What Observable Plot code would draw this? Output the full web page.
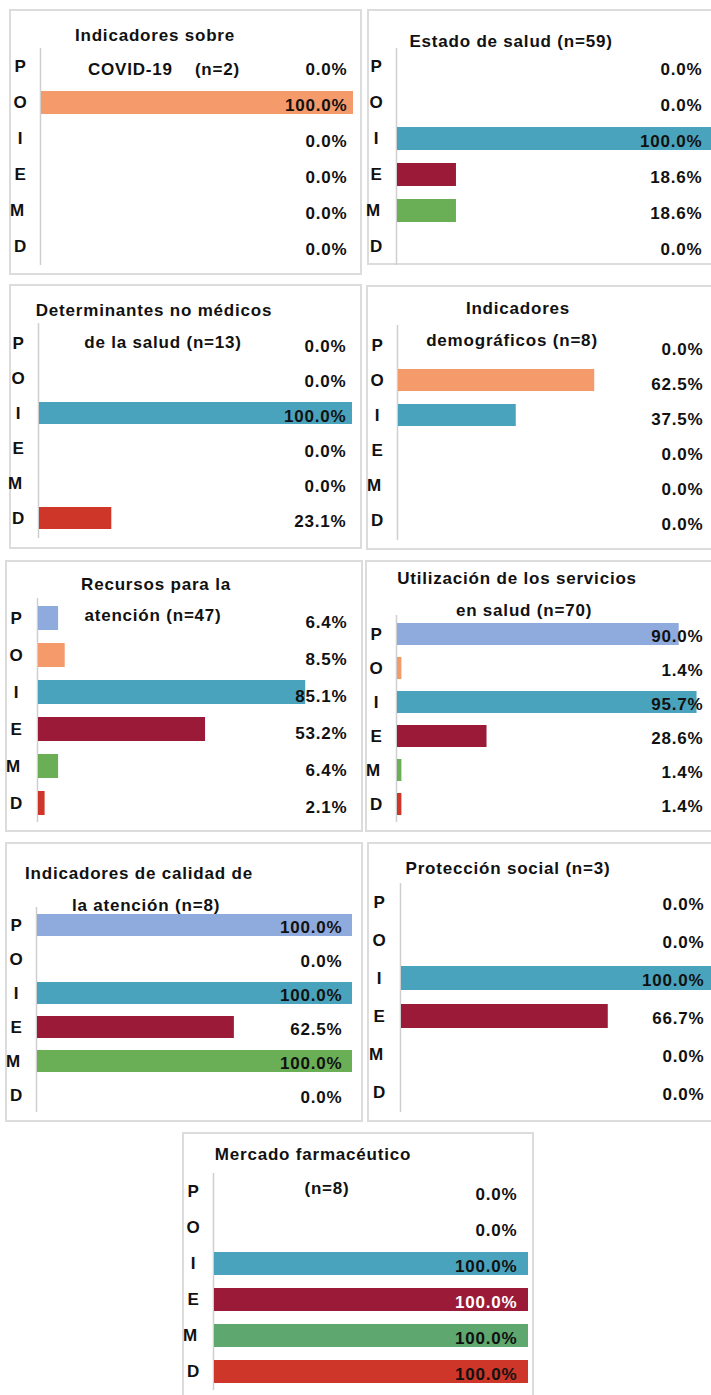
<!DOCTYPE html>
<html>
<head>
<meta charset="utf-8">
<script src="https://cdn.jsdelivr.net/npm/d3@7"></script>
<script src="https://cdn.jsdelivr.net/npm/@observablehq/plot@0.6"></script>
<style>
  html, body { margin: 0; padding: 0; background: #fff; overflow: hidden; }
  #page { position: relative; width: 711px; height: 1395px; overflow: hidden; background: #fff; }
  .box { position: absolute; box-sizing: border-box; border: 2px solid #dcdcdc; }
  .title { position: absolute; transform: translate(-50%, -50%); white-space: pre;
           font-family: "Liberation Sans", Arial, sans-serif; font-weight: bold; font-size: 17px;
           letter-spacing: 0.8px; color: #111; line-height: 1; }
  .holder { position: absolute; overflow: visible; }
</style>
</head>
<body>
<div id="page"></div>
<script>
// ---------- data ----------
const categories = ["P", "O", "I", "E", "M", "D"];
const categoryColors = ["#8faadc", "#f59a6b", "#4aa3bc", "#9a1a37", "#6aaf56", "#cd3628"];

const titleCovid = ["Indicadores sobre", "COVID-19    (n=2)"];
const valuesCovid = [0, 100, 0, 0, 0, 0];

const titleEstado = ["Estado de salud (n=59)"];
const valuesEstado = [0, 0, 100, 18.6, 18.6, 0];

const titleDeterminantes = ["Determinantes no médicos", "de la salud (n=13)"];
const valuesDeterminantes = [0, 0, 100, 0, 0, 23.1];

const titleDemograficos = ["Indicadores", "demográficos (n=8)"];
const valuesDemograficos = [0, 62.5, 37.5, 0, 0, 0];

const titleRecursos = ["Recursos para la", "atención (n=47)"];
const valuesRecursos = [6.4, 8.5, 85.1, 53.2, 6.4, 2.1];

const titleUtilizacion = ["Utilización de los servicios", "en salud (n=70)"];
const valuesUtilizacion = [90.0, 1.4, 95.7, 28.6, 1.4, 1.4];

const titleCalidad = ["Indicadores de calidad de", "la atención (n=8)"];
const valuesCalidad = [100, 0, 100, 62.5, 100, 0];

const titleProteccion = ["Protección social (n=3)"];
const valuesProteccion = [0, 0, 100, 66.7, 0, 0];

const titleMercado = ["Mercado farmacéutico", "(n=8)"];
const valuesMercado = [0, 0, 100, 100, 100, 100];

// ---------- layout (page pixel positions, styles) ----------
const layouts = [
  {box: [9, 9, 362, 275], axisX: 40, x0: 41, x100: 353, axisY: [48, 265], labelRight: 347, dy: 3,
   titlePos: [[155, 35], [164, 69]]},
  {box: [367, 9, 714, 265], axisX: 396, x0: 397, x100: 714, axisY: [48, 265], labelRight: 702, dy: 3,
   titlePos: [[511, 41]]},
  {box: [9, 284, 362, 549], axisX: 38, x0: 39, x100: 352, axisY: [323, 538], labelRight: 346, dy: 3,
   titlePos: [[154, 310], [163, 342]]},
  {box: [366, 285, 714, 550], axisX: 397, x0: 398, x100: 712, axisY: [325, 540], labelRight: 703, dy: 4,
   titlePos: [[518, 308], [512, 340]]},
  {box: [5, 560, 363, 832], axisX: 36, x0: 38, x100: 352, axisY: [598, 822], labelRight: 347, dy: 4,
   titlePos: [[156, 584], [153, 615]]},
  {box: [365, 560, 714, 832], axisX: 396, x0: 397, x100: 710, axisY: [615, 822], labelRight: 703, dy: 2,
   titlePos: [[517, 578], [524, 610]]},
  {box: [5, 842, 363, 1122], axisX: 36, x0: 37, x100: 352, axisY: [907, 1112], labelRight: 342, dy: 2,
   titlePos: [[139, 873], [146, 905]]},
  {box: [367, 842, 714, 1122], axisX: 399, x0: 401, x100: 711, axisY: [883, 1112], labelRight: 704, dy: 2,
   titlePos: [[508, 868]]},
  {box: [182, 1132, 534, 1402], axisX: 213, x0: 214, x100: 528, axisY: [1173, 1390], labelRight: 517, dy: 3,
   titlePos: [[313, 1154], [327, 1188]], colorOverride: {M: "#5ea86f"}, labelColorOverride: {E: "#ffffff"}}
];

const panels = [
  {title: titleCovid, values: valuesCovid},
  {title: titleEstado, values: valuesEstado},
  {title: titleDeterminantes, values: valuesDeterminantes},
  {title: titleDemograficos, values: valuesDemograficos},
  {title: titleRecursos, values: valuesRecursos},
  {title: titleUtilizacion, values: valuesUtilizacion},
  {title: titleCalidad, values: valuesCalidad},
  {title: titleProteccion, values: valuesProteccion},
  {title: titleMercado, values: valuesMercado}
];

const page = document.getElementById("page");
const fontFamily = "'Liberation Sans', Arial, Helvetica, sans-serif";

panels.forEach((p, k) => {
  const L = layouts[k];
  const [bl, bt, br, bb] = L.box;
  const w = br - bl, h = bb - bt;

  const data = categories.map((c, i) => ({
    cat: c,
    value: p.values[i],
    color: (L.colorOverride && L.colorOverride[c]) || categoryColors[i],
    labelColor: (L.labelColorOverride && L.labelColorOverride[c]) || "#111111"
  }));

  const box = document.createElement("div");
  box.className = "box";
  Object.assign(box.style, {left: bl + "px", top: bt + "px", width: w + "px", height: h + "px"});
  page.appendChild(box);

  const rowLabel = (filter, dx) => Plot.text(categories.filter(filter), {
    y: d => d,
    text: d => d,
    frameAnchor: "left",
    textAnchor: "middle",
    dx,
    fill: "#111111",
    fontSize: 17,
    fontWeight: "bold"
  });

  const chart = Plot.plot({
    width: w,
    height: h,
    marginLeft: L.axisX - bl,
    marginRight: br - L.labelRight,
    marginTop: L.axisY[0] - bt,
    marginBottom: bb - L.axisY[1],
    x: {domain: [0, 100], range: [L.x0 - bl, L.x100 - bl], axis: null},
    y: {domain: categories, paddingInner: 0.36, paddingOuter: 0.18, axis: null},
    style: {
      background: "transparent",
      fontFamily: fontFamily,
      fontSize: "17px",
      letterSpacing: "0.8px",
      overflow: "visible",
      maxWidth: "none"
    },
    marks: [
      Plot.ruleX([0], {dx: -1, stroke: "#cfcfcf", strokeWidth: 1.5}),
      Plot.barX(data, {x: "value", y: "cat", fill: d => d.color}),
      Plot.text(data, {
        y: "cat",
        text: d => d.value.toFixed(1) + "%",
        frameAnchor: "right",
        textAnchor: "end",
        dy: L.dy,
        fill: d => d.labelColor,
        fontSize: 17,
        fontWeight: "bold"
      }),
      rowLabel(c => c !== "M", -20),
      rowLabel(c => c === "M", -23)
    ]
  });

  const holder = document.createElement("div");
  holder.className = "holder";
  Object.assign(holder.style, {left: bl + "px", top: bt + "px", width: w + "px", height: h + "px"});
  holder.appendChild(chart);
  page.appendChild(holder);

  p.title.forEach((line, j) => {
    const t = document.createElement("div");
    t.className = "title";
    t.textContent = line;
    t.style.left = L.titlePos[j][0] + "px";
    t.style.top = L.titlePos[j][1] + "px";
    page.appendChild(t);
  });
});
</script>
</body>
</html>
